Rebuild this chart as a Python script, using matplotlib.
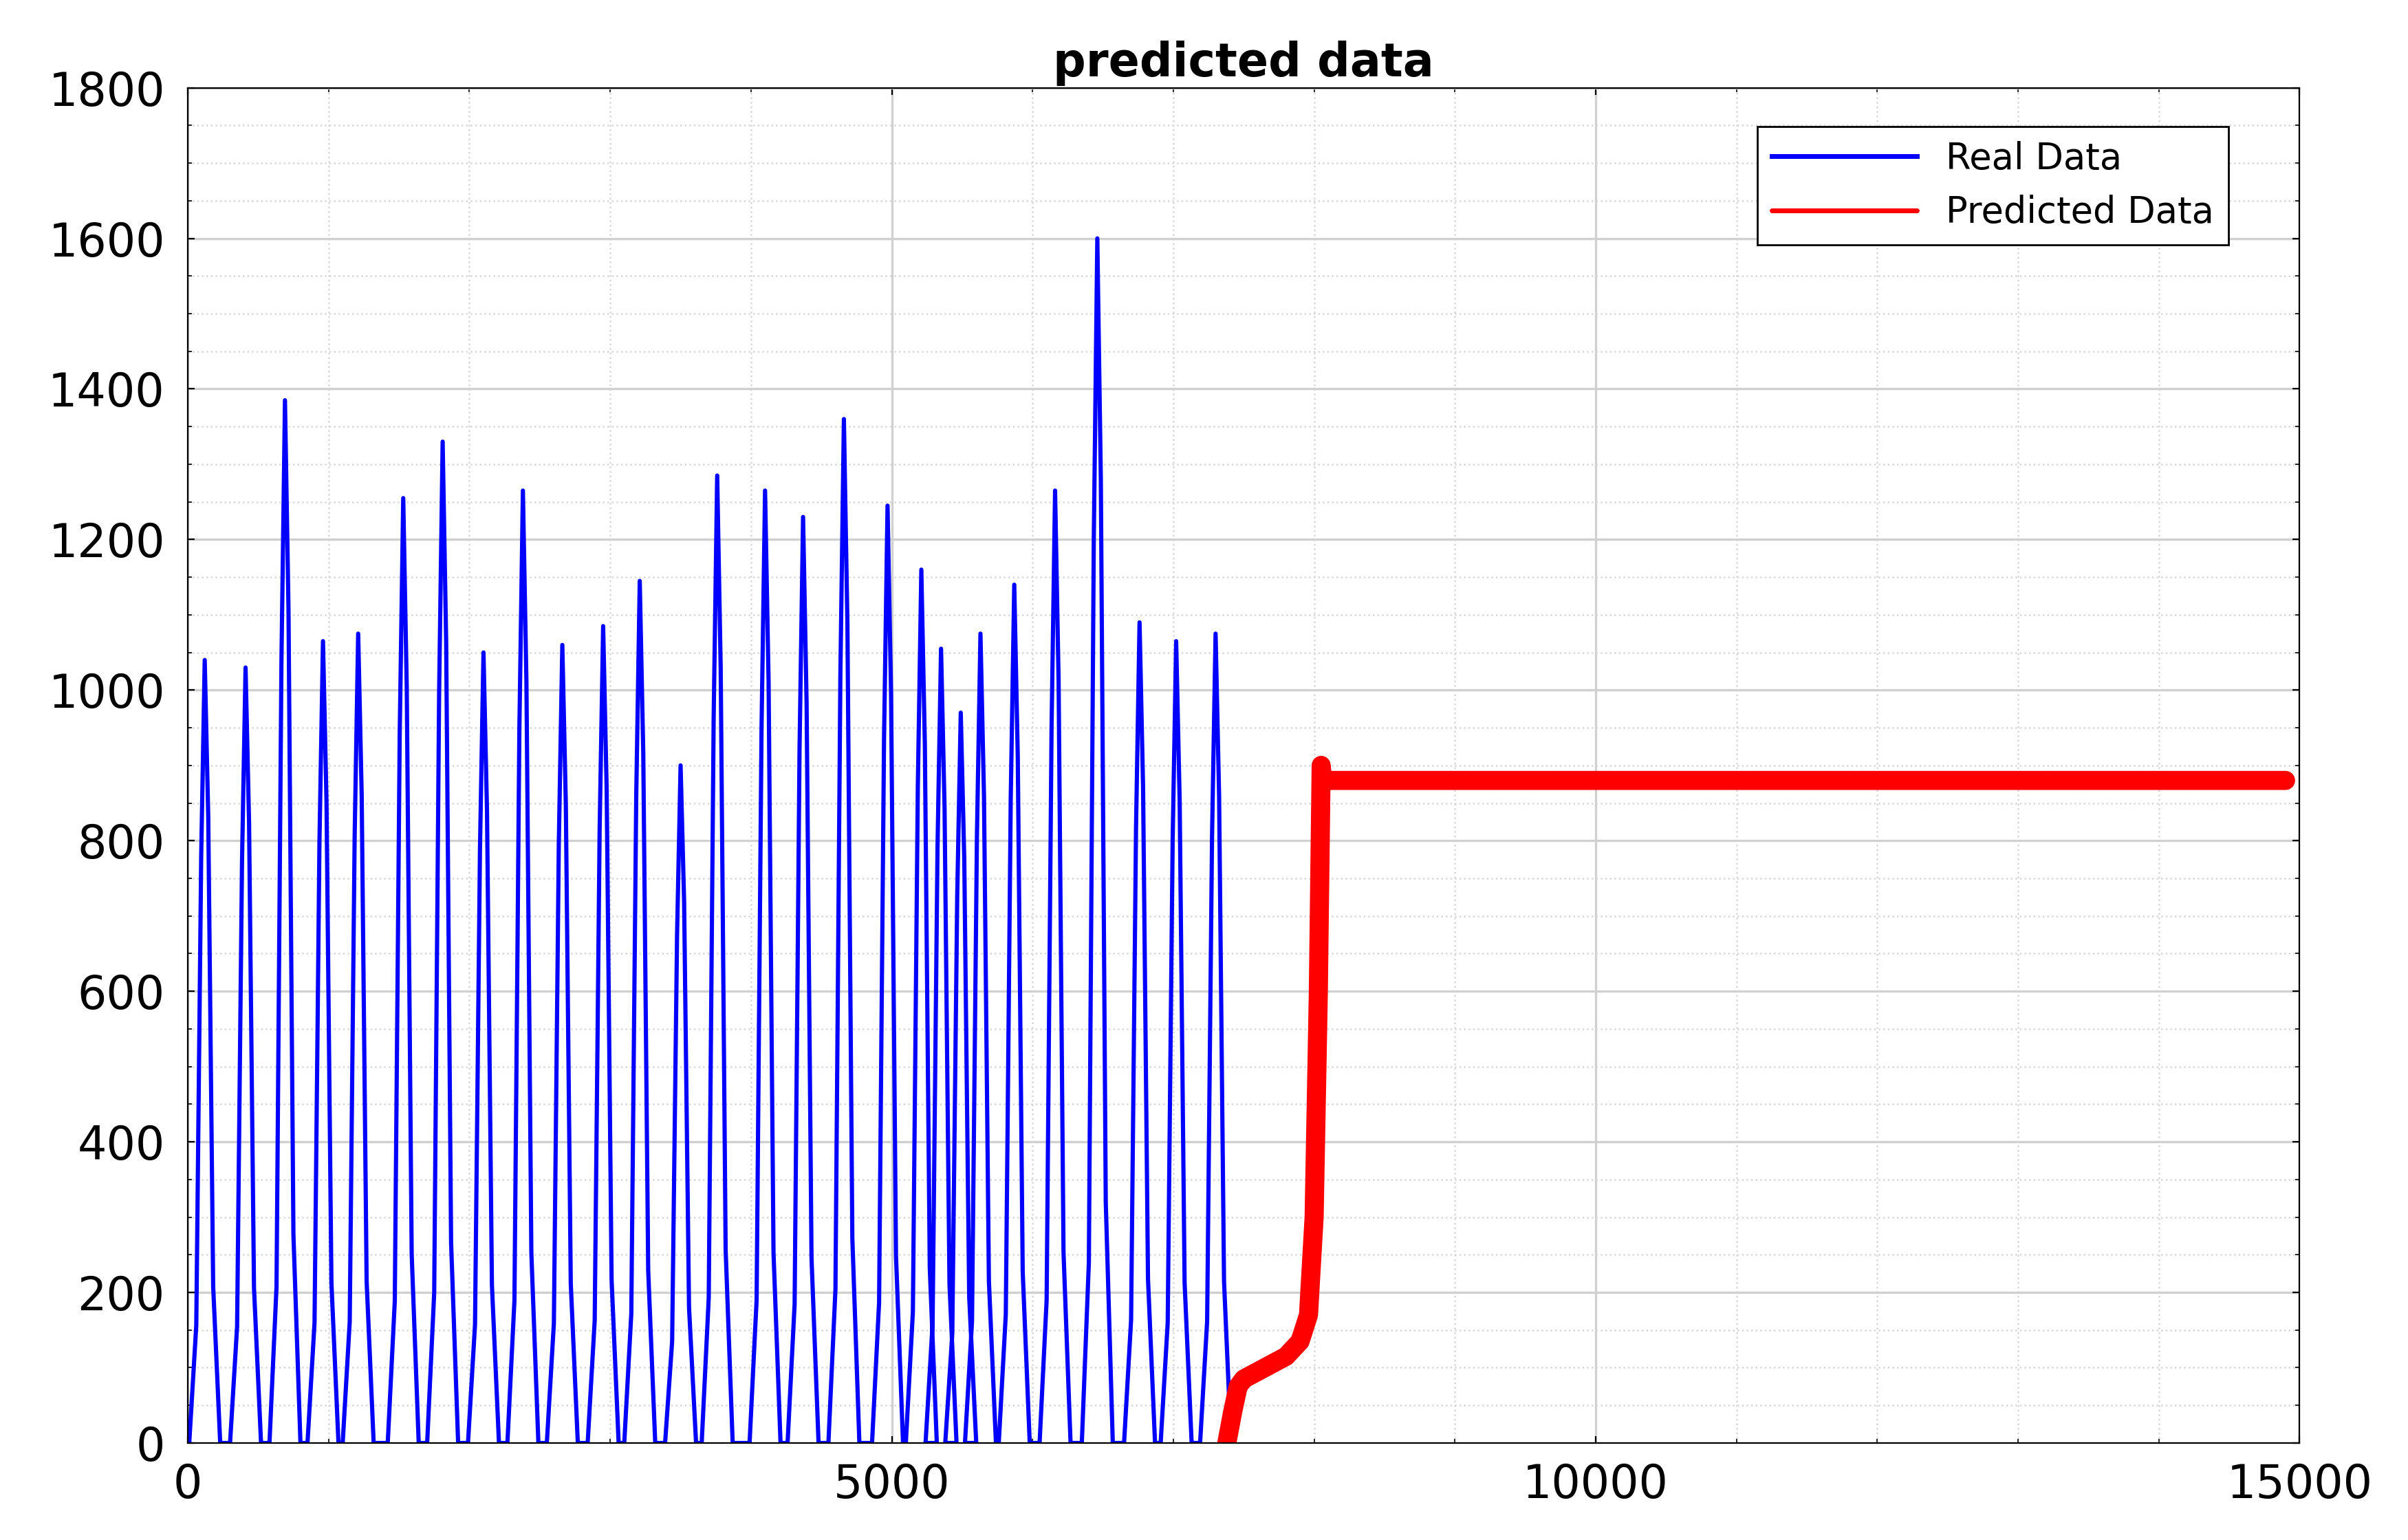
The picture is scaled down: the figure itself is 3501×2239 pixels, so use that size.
import matplotlib.pyplot as plt
from matplotlib.ticker import MultipleLocator

# blue spikes: peak position and height
peak_x = [120, 410, 690, 960, 1210, 1530, 1810, 2100, 2380, 2660, 2950, 3210, 3500, 3760,
          4100, 4370, 4660, 4970, 5210, 5350, 5490, 5630, 5870, 6160, 6460, 6760, 7020, 7300]
peak_y = [1040, 1030, 1385, 1065, 1075, 1255, 1330, 1050, 1265, 1060, 1085, 1145, 900, 1285,
          1265, 1230, 1360, 1245, 1160, 1055, 970, 1075, 1140, 1265, 1600, 1090, 1065, 1075]
real_end = 7360

pred_x = [7380, 7420, 7460, 7500, 7600, 7700, 7800, 7900, 7960, 8000, 8030, 8050, 8060, 8080, 9000, 11000, 13000, 14900]
pred_y = [0, 40, 75, 85, 95, 105, 115, 135, 170, 300, 600, 900, 880, 880, 880, 880, 880, 880]

real_x, real_y = [0], [0]
for px, py in zip(peak_x, peak_y):
    real_x += [px - 110, px - 60, px - 25, px, px + 25, px + 60, px + 110]
    real_y += [0, py * 0.15, py * 0.75, py, py * 0.8, py * 0.2, 0]
real_x.append(real_end)
real_y.append(0)

fig = plt.figure(figsize=(17.505, 11.195), dpi=200)
ax = fig.add_axes([0.078, 0.063, 0.877, 0.88])
ax.plot(real_x, real_y, color='blue', lw=2.2, label='Real Data')
ax.plot(pred_x, pred_y, color='red', lw=10, solid_capstyle='round', solid_joinstyle='round',
        label='Predicted Data')
ax.set_xlim(0, 15000)
ax.set_ylim(0, 1800)
ax.xaxis.set_major_locator(MultipleLocator(5000))
ax.xaxis.set_minor_locator(MultipleLocator(1000))
ax.yaxis.set_major_locator(MultipleLocator(200))
ax.yaxis.set_minor_locator(MultipleLocator(50))
ax.grid(which='major', color='#d0d0d0', lw=1.2)
ax.grid(which='minor', color='#d8d8d8', lw=0.9, ls=':')
ax.tick_params(labelsize=24, which='both', direction='in', top=True, right=True)
ax.tick_params(axis='x', pad=10)
ax.tick_params(axis='y', pad=12)
ax.set_title('predicted data', fontsize=24, fontweight='bold')
leg = ax.legend(loc='upper right', fontsize=19, fancybox=False, framealpha=1,
                edgecolor='black', bbox_to_anchor=(0.975, 0.985), handlelength=4)
for line in leg.get_lines():
    line.set_linewidth(2.5)
fig.savefig('out.png')
